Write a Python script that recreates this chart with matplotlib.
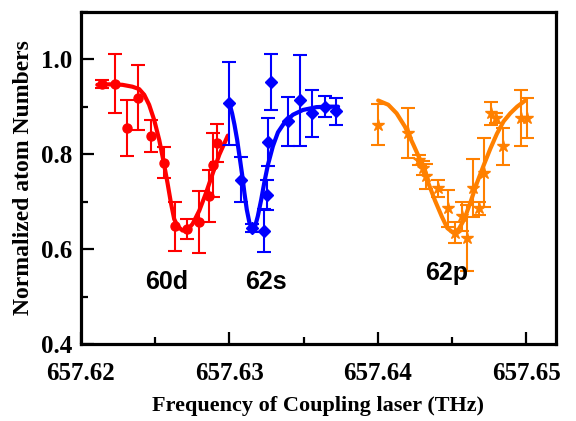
import matplotlib
matplotlib.use("Agg")
import matplotlib.pyplot as plt
from matplotlib.ticker import MultipleLocator, FormatStrFormatter

# measured points (frequency in THz, normalized atom number, error)
f_60d = [657.62144, 657.6223, 657.62313, 657.62387, 657.62471, 657.62561,
         657.62635, 657.62712, 657.62793, 657.6286, 657.62892, 657.62914]
n_60d = [0.948, 0.948, 0.855, 0.919, 0.838, 0.782,
         0.648, 0.642, 0.657, 0.712, 0.777, 0.823]
e_60d = [0.009, 0.062, 0.059, 0.068, 0.034, 0.033,
         0.052, 0.021, 0.066, 0.054, 0.067, 0.040]

f_62s = [657.63000, 657.63079, 657.63153, 657.63236, 657.63252, 657.63259,
         657.63277, 657.63394, 657.63477, 657.63559, 657.63642, 657.63721]
n_62s = [0.907, 0.746, 0.644, 0.639, 0.714, 0.826,
         0.951, 0.869, 0.913, 0.886, 0.900, 0.890]
e_62s = [0.088, 0.047, 0.009, 0.045, 0.032, 0.050,
         0.059, 0.051, 0.095, 0.050, 0.022, 0.029]

f_62p = [657.64002, 657.64200, 657.64279, 657.64306, 657.64324, 657.64403,
         657.64475, 657.64520, 657.64566, 657.64600, 657.64644, 657.64678,
         657.64718, 657.64764, 657.64797, 657.64842, 657.64964, 657.65005]
n_62p = [0.862, 0.844, 0.788, 0.771, 0.753, 0.728,
         0.686, 0.634, 0.669, 0.623, 0.728, 0.686,
         0.761, 0.886, 0.876, 0.817, 0.876, 0.876]
e_62p = [0.043, 0.053, 0.010, 0.014, 0.026, 0.018,
         0.039, 0.022, 0.030, 0.070, 0.061, 0.014,
         0.072, 0.024, 0.010, 0.039, 0.059, 0.043]

# fitted curves
fit_f_60d = [657.62110, 657.62189, 657.62279, 657.62347, 657.62392, 657.62426,
             657.62459, 657.62493, 657.62527, 657.62554, 657.62583, 657.62606,
             657.62628, 657.62651, 657.62684, 657.62718, 657.62752, 657.62797,
             657.62842, 657.62887, 657.62932, 657.62989]
fit_n_60d = [0.946, 0.947, 0.946, 0.942, 0.937, 0.925,
             0.904, 0.872, 0.830, 0.788, 0.739, 0.697,
             0.663, 0.648, 0.639, 0.641, 0.653, 0.681,
             0.718, 0.759, 0.799, 0.839]

fit_f_62s = [657.63000, 657.63018, 657.63034, 657.63052, 657.63068, 657.63086,
             657.63101, 657.63117, 657.63135, 657.63153, 657.63173, 657.63191,
             657.63214, 657.63236, 657.63259, 657.63293, 657.63327, 657.63372,
             657.63428, 657.63495, 657.63586, 657.63676, 657.63732]
fit_n_62s = [0.907, 0.886, 0.862, 0.830, 0.795, 0.756,
             0.718, 0.683, 0.655, 0.644, 0.648, 0.669,
             0.704, 0.742, 0.777, 0.817, 0.846, 0.867,
             0.883, 0.893, 0.899, 0.900, 0.900]

fit_f_62p = [657.64002, 657.64070, 657.64126, 657.64182, 657.64239, 657.64295,
             657.64340, 657.64385, 657.64430, 657.64468, 657.64505, 657.64543,
             657.64581, 657.64622, 657.64667, 657.64711, 657.64757, 657.64802,
             657.64847, 657.64892, 657.64938, 657.64993]
fit_n_62p = [0.913, 0.904, 0.886, 0.858, 0.820, 0.781,
             0.739, 0.702, 0.669, 0.644, 0.635, 0.641,
             0.662, 0.697, 0.739, 0.775, 0.811, 0.843,
             0.869, 0.886, 0.900, 0.913]

labels = ["60d", "62s", "62p"]
label_f = [657.62574, 657.63248, 657.64464]
label_n = [0.516, 0.516, 0.535]

RED = "#ff0000"
BLUE = "#0000ff"
ORANGE = "#ff8000"

fig = plt.figure(figsize=(5.76, 4.21), dpi=100)
ax = fig.add_axes([0.1406, 0.1829, 0.8247, 0.7893])

serif = {"family": "Liberation Serif", "weight": "bold"}

series = [
    (f_60d, n_60d, e_60d, fit_f_60d, fit_n_60d, RED, "o", 6.5),
    (f_62s, n_62s, e_62s, fit_f_62s, fit_n_62s, BLUE, "D", 6.5),
    (f_62p, n_62p, e_62p, fit_f_62p, fit_n_62p, ORANGE, "*", 9),
]
for f, n, e, ff, fn, c, m, ms in series:
    ax.plot(ff, fn, color=c, lw=3.0, zorder=2, solid_capstyle="round")
    ax.errorbar(f, n, yerr=e, fmt=m, color=c, ms=ms, mec=c, mfc=c,
                elinewidth=1.5, capsize=5, capthick=1.5, zorder=3)

for txt, x, y in zip(labels, label_f, label_n):
    ax.text(x, y, txt, ha="center", va="baseline", fontsize=18,
            family="Liberation Sans", weight="bold")

ax.set_xlim(657.62, 657.652)
ax.set_ylim(0.4, 1.1)
ax.xaxis.set_major_locator(MultipleLocator(0.01))
ax.xaxis.set_minor_locator(MultipleLocator(0.005))
ax.xaxis.set_major_formatter(FormatStrFormatter("%.2f"))
ax.yaxis.set_major_locator(MultipleLocator(0.2))
ax.yaxis.set_minor_locator(MultipleLocator(0.1))
ax.yaxis.set_major_formatter(FormatStrFormatter("%.1f"))

for s in ax.spines.values():
    s.set_linewidth(2.3)
ax.tick_params(which="both", direction="in", top=False, right=False, width=1.6)
ax.tick_params(which="major", length=9)
ax.tick_params(axis="x", which="major", pad=13)
ax.tick_params(axis="y", which="major", pad=6)
ax.tick_params(which="minor", length=4.8)
for lab in ax.get_xticklabels() + ax.get_yticklabels():
    lab.set_fontproperties(serif)
    lab.set_fontsize(18)

ax.set_xlabel("Frequency of Coupling laser (THz)", fontsize=16, labelpad=8, **serif)
ax.set_ylabel("Normalized atom Numbers", fontsize=17, labelpad=5, **serif)

fig.savefig("out.png", dpi=100)
